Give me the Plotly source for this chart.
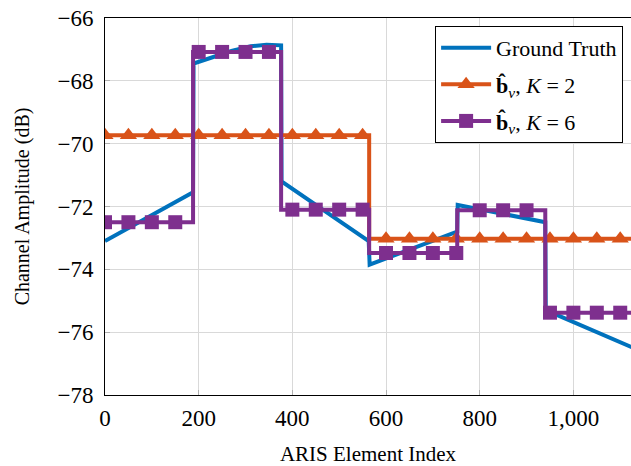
import plotly.graph_objects as go

# ---- data ----
block_edges = [0, 188, 376, 564, 752, 940, 1128]
k6_levels = [-72.5, -67.08, -72.1, -73.48, -72.12, -75.38]
k2_edges = [0, 564, 1128]
k2_levels = [-69.73, -73.03]
marker_x = list(range(0, 1101, 50))

gt_x = [0, 188, 189, 232, 270, 311, 345, 376, 377, 563, 565, 752, 753, 940, 941, 1128]
gt_y = [-73.1, -71.55, -67.45, -67.24, -67.05, -66.9, -66.85, -66.87,
        -71.2, -73.1, -73.85, -72.8, -71.95, -72.5, -75.3, -76.5]

xticks = [0, 200, 400, 600, 800, 1000]
yticks = [-78, -76, -74, -72, -70, -68, -66]

BLUE = "#0072BD"
ORANGE = "#D95319"
PURPLE = "#7E2F8E"
FONT = "Liberation Serif"


def lookup(edges, levels, x):
    for i in range(len(levels)):
        if edges[i] <= x < edges[i + 1]:
            return levels[i]
    return levels[-1]


fig = go.Figure()

# ground truth
fig.add_trace(go.Scatter(x=gt_x, y=gt_y, mode="lines", name="Ground Truth",
                         legendgroup="g1",
                         line=dict(color=BLUE, width=4)))

# K = 2 step line + markers
fig.add_trace(go.Scatter(x=k2_edges, y=k2_levels + [k2_levels[-1]], mode="lines",
                         line=dict(color=ORANGE, width=4, shape="hv"), showlegend=False))
fig.add_trace(go.Scatter(x=marker_x, y=[lookup(k2_edges, k2_levels, v) for v in marker_x],
                         mode="markers", showlegend=False,
                         marker=dict(symbol="triangle-up", size=15, color=ORANGE, line=dict(width=0))))

# K = 6 step line + markers
fig.add_trace(go.Scatter(x=block_edges, y=k6_levels + [k6_levels[-1]], mode="lines",
                         line=dict(color=PURPLE, width=4, shape="hv"), showlegend=False))
fig.add_trace(go.Scatter(x=marker_x, y=[lookup(block_edges, k6_levels, v) for v in marker_x],
                         mode="markers", showlegend=False,
                         marker=dict(symbol="square", size=14, color=PURPLE, line=dict(width=0))))

# legend entries
fig.add_trace(go.Scatter(x=[None], y=[None], mode="lines+markers", legendgroup="g2",
                         name="<b>b\u0302</b><i><sub>v</sub></i>, <i>K</i> = 2",
                         line=dict(color=ORANGE, width=4),
                         marker=dict(symbol="triangle-up", size=15, color=ORANGE, line=dict(width=0))))
fig.add_trace(go.Scatter(x=[None], y=[None], mode="lines+markers", legendgroup="g3",
                         name="<b>b\u0302</b><i><sub>v</sub></i>, <i>K</i> = 6",
                         line=dict(color=PURPLE, width=4),
                         marker=dict(symbol="square", size=14, color=PURPLE, line=dict(width=0))))

fig.update_layout(
    width=631, height=466,
    margin=dict(l=105, r=0, t=18, b=71),
    plot_bgcolor="white", paper_bgcolor="white",
    font=dict(family=FONT, size=23, color="black"),
    legend=dict(x=0.985, y=0.979, xanchor="right", yanchor="top",
                bgcolor="white", bordercolor="black", borderwidth=1,
                font=dict(family=FONT, size=22), tracegroupgap=5,
                itemwidth=50),
)
fig.update_xaxes(range=[0, 1123], tickvals=xticks, tickformat=",",
                 showgrid=True, gridcolor="#d9d9d9", gridwidth=1,
                 showline=True, linecolor="black", linewidth=1, mirror=True,
                 ticks="inside", ticklen=5, tickcolor="#b0b0b0",
                 ticklabelstandoff=2, zeroline=False,
                 title=dict(text="ARIS Element Index", standoff=16, font=dict(size=21)))
fig.update_yaxes(range=[-78, -66], tickvals=yticks,
                 showgrid=True, gridcolor="#d9d9d9", gridwidth=1,
                 showline=True, linecolor="black", linewidth=1, mirror=False,
                 ticks="inside", ticklen=5, tickcolor="#b0b0b0",
                 ticklabelstandoff=6, zeroline=False,
                 title=dict(text="Channel Amplitude (dB)", standoff=22, font=dict(size=20)))

fig.write_html("out.html")
